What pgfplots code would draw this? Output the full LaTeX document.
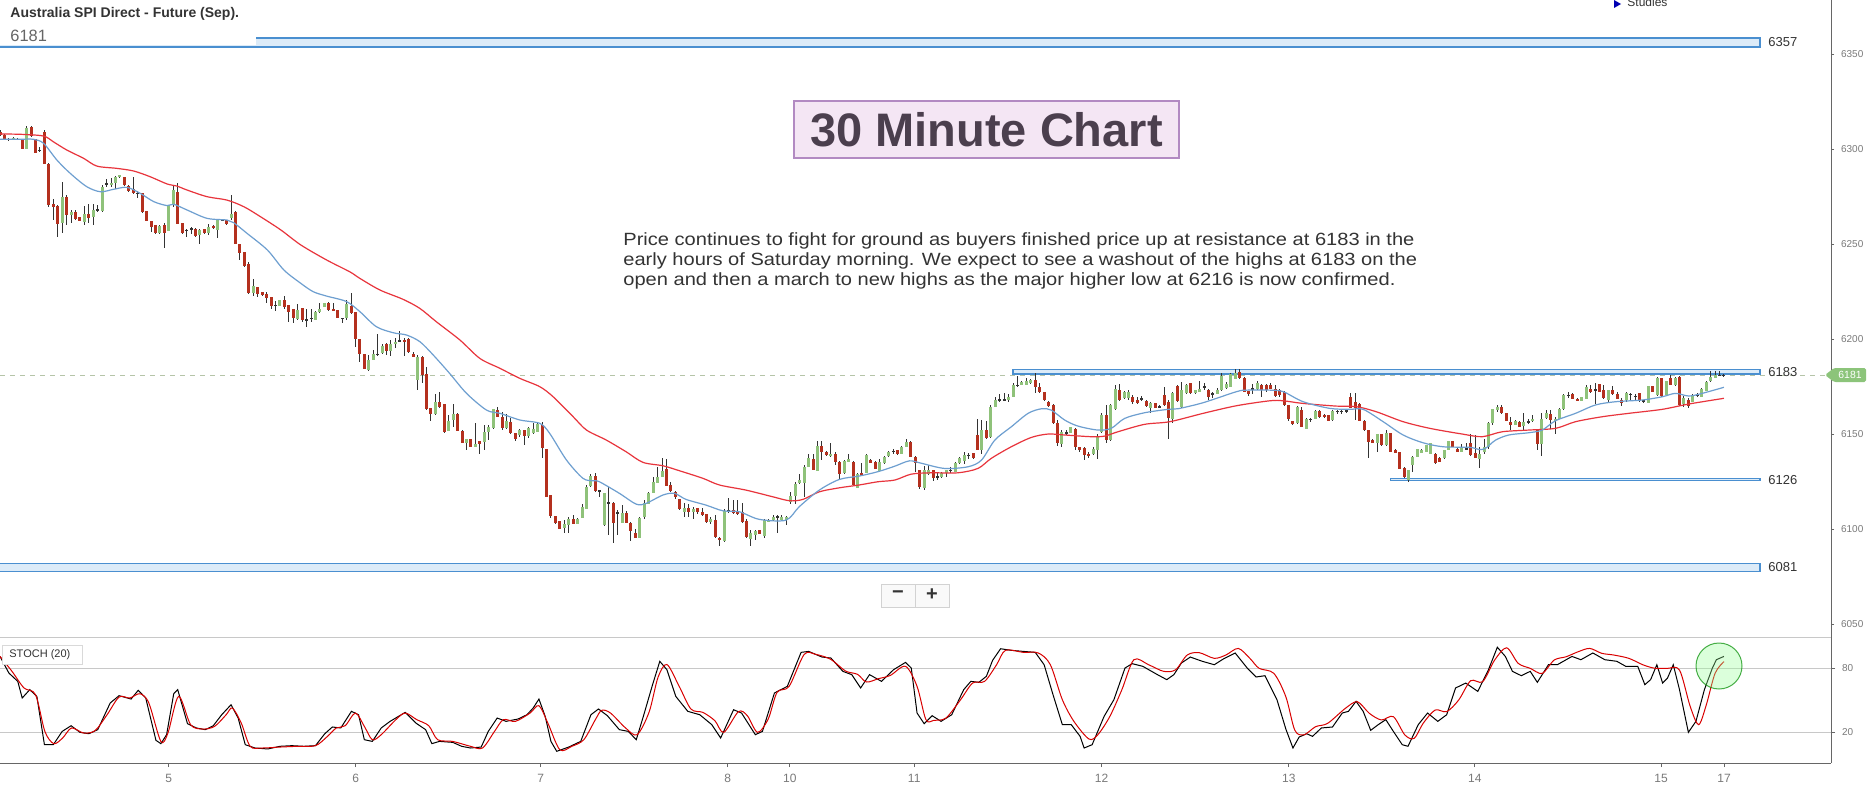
\documentclass[border=0pt]{standalone}
\usepackage{fontspec}
\setmainfont{Liberation Sans}
\usepackage{graphicx}
\usepackage{pgfplots}
\usepackage{pgfplotstable}
\pgfplotsset{compat=1.18}
\definecolor{cgreen}{HTML}{8FC27A}
\definecolor{cred}{HTML}{B4301E}
\definecolor{cwick}{HTML}{333333}
\definecolor{maBlue}{HTML}{6E9FD0}
\definecolor{maRed}{HTML}{E8343C}
\definecolor{bandFill}{HTML}{DCEBF8}
\definecolor{bandLine}{HTML}{4A8FD0}
\definecolor{dashc}{HTML}{B5C4A8}
\definecolor{tagGreen}{HTML}{8CC47A}
\definecolor{axisgray}{HTML}{666666}
\definecolor{labgray}{HTML}{7A7A7A}
\definecolor{gridc}{HTML}{C8C8C8}
\definecolor{titleFill}{HTML}{F4E6F4}
\definecolor{titleLine}{HTML}{B28AC2}
\definecolor{titleText}{HTML}{4B3F4E}
\definecolor{txt}{HTML}{333333}

\pgfplotstableread{
i o h l c
0 6309.1 6310.0 6307.0 6307.3
1 6307.3 6308.0 6304.8 6305.2
2 6305.2 6306.0 6304.5 6305.2
3 6305.1 6306.5 6304.8 6306.0
4 6305.1 6305.8 6304.6 6305.1
5 6305.1 6305.5 6300.0 6300.3
6 6300.3 6312.3 6300.0 6310.9
7 6311.7 6312.0 6306.5 6306.8
8 6305.1 6305.5 6297.8 6298.2
9 6299.5 6301.2 6298.6 6299.5
10 6309.1 6310.0 6292.0 6292.4
11 6292.4 6292.6 6269.6 6270.5
12 6271.0 6274.0 6262.6 6269.6
13 6270.2 6270.6 6253.8 6260.9
14 6260.9 6282.8 6256.0 6274.5
15 6274.9 6275.8 6260.0 6265.2
16 6265.2 6268.2 6260.9 6267.0
17 6267.0 6267.9 6262.6 6263.5
18 6264.0 6264.2 6261.9 6262.1
19 6261.7 6270.0 6260.0 6265.8
20 6265.8 6270.9 6260.9 6263.8
21 6264.0 6270.9 6260.0 6267.9
22 6267.9 6270.5 6267.0 6267.9
23 6267.5 6281.0 6267.0 6279.8
24 6281.6 6284.0 6279.8 6281.6
25 6281.0 6284.9 6279.8 6282.3
26 6282.3 6285.8 6278.8 6285.1
27 6285.1 6286.4 6285.0 6286.1
28 6285.1 6285.4 6280.5 6281.0
29 6280.5 6281.0 6277.5 6277.9
30 6278.9 6285.1 6276.6 6277.0
31 6276.6 6278.0 6274.5 6276.6
32 6276.6 6277.0 6266.5 6266.8
33 6267.4 6267.6 6262.1 6262.3
34 6262.1 6262.3 6256.5 6258.8
35 6260.0 6260.2 6255.4 6255.6
36 6255.6 6260.0 6255.2 6259.5
37 6260.0 6260.9 6247.7 6255.6
38 6257.0 6270.6 6256.8 6270.5
39 6270.5 6281.0 6269.6 6278.4
40 6277.5 6282.3 6260.5 6260.9
41 6260.9 6261.0 6255.3 6256.0
42 6257.4 6258.2 6253.5 6257.4
43 6258.2 6259.1 6255.2 6258.2
44 6257.7 6258.2 6253.8 6254.2
45 6254.7 6258.2 6250.3 6257.7
46 6257.7 6257.9 6255.4 6255.6
47 6255.6 6260.3 6254.7 6258.8
48 6259.5 6259.7 6258.0 6258.2
49 6257.4 6263.5 6253.5 6263.0
50 6262.6 6263.0 6262.0 6262.6
51 6262.6 6262.8 6260.3 6260.5
52 6263.5 6275.8 6262.6 6265.8
53 6267.0 6267.5 6250.0 6250.3
54 6250.3 6250.3 6241.6 6245.4
55 6245.9 6246.1 6238.2 6238.4
56 6239.8 6240.7 6223.7 6224.4
57 6224.4 6231.4 6222.6 6227.9
58 6227.5 6227.5 6222.3 6223.7
59 6224.9 6225.1 6223.0 6223.2
60 6223.7 6224.9 6218.8 6221.4
61 6222.3 6222.3 6215.6 6217.4
62 6217.9 6220.2 6214.9 6217.9
63 6217.7 6220.7 6217.5 6220.5
64 6220.5 6222.6 6216.1 6217.0
65 6217.9 6218.0 6209.1 6214.4
66 6215.6 6215.8 6208.6 6210.9
67 6210.9 6218.4 6210.0 6215.2
68 6216.5 6216.6 6209.1 6210.0
69 6210.2 6216.1 6206.5 6210.2
70 6211.0 6216.1 6209.1 6211.0
71 6210.0 6214.6 6209.8 6214.4
72 6214.4 6218.8 6213.5 6216.1
73 6217.0 6219.2 6216.8 6218.8
74 6219.3 6219.5 6215.0 6215.3
75 6216.1 6218.8 6214.6 6214.9
76 6215.3 6215.5 6211.0 6211.4
77 6210.9 6211.2 6208.6 6210.9
78 6211.4 6220.5 6210.0 6218.4
79 6217.4 6224.0 6213.2 6213.5
80 6214.4 6214.5 6195.6 6200.0
81 6200.0 6200.0 6188.0 6192.5
82 6192.1 6192.2 6184.4 6184.6
83 6183.7 6191.6 6183.5 6189.0
84 6189.3 6194.2 6189.0 6192.1
85 6191.9 6203.0 6191.0 6191.9
86 6192.5 6197.7 6192.3 6196.3
87 6197.4 6198.1 6191.6 6193.9
88 6193.9 6199.5 6191.0 6197.4
89 6197.7 6200.9 6195.6 6198.6
90 6199.1 6204.4 6198.8 6199.1
91 6199.5 6200.9 6191.0 6198.6
92 6200.2 6200.9 6192.8 6193.3
93 6192.1 6193.3 6190.5 6190.7
94 6178.4 6191.6 6173.2 6190.7
95 6190.7 6191.0 6177.0 6181.1
96 6181.4 6185.4 6162.6 6163.0
97 6163.5 6163.6 6157.0 6160.5
98 6160.5 6171.4 6160.0 6166.8
99 6166.8 6172.3 6164.0 6164.4
100 6165.8 6166.0 6150.7 6151.2
101 6151.8 6160.0 6151.5 6156.9
102 6157.4 6165.8 6153.9 6160.5
103 6160.5 6161.0 6151.5 6151.8
104 6151.8 6152.0 6145.2 6145.4
105 6145.4 6147.7 6141.9 6147.4
106 6147.2 6147.5 6143.0 6143.3
107 6143.3 6155.6 6143.0 6145.1
108 6146.3 6146.5 6139.3 6145.1
109 6146.0 6154.7 6141.6 6151.2
110 6151.2 6154.7 6146.9 6153.9
111 6153.0 6163.2 6152.8 6163.0
112 6162.6 6164.4 6159.0 6159.1
113 6159.1 6161.8 6152.5 6153.0
114 6153.0 6160.5 6152.8 6157.0
115 6156.5 6158.2 6150.2 6150.4
116 6150.4 6150.5 6146.5 6147.7
117 6149.5 6153.0 6148.6 6152.1
118 6152.1 6152.2 6144.2 6149.0
119 6149.0 6153.9 6148.2 6153.3
120 6150.4 6155.6 6150.0 6153.0
121 6151.2 6156.1 6151.0 6155.6
122 6154.7 6156.5 6137.2 6142.5
123 6142.1 6142.2 6116.8 6117.0
124 6117.9 6118.0 6105.6 6106.8
125 6106.8 6107.0 6102.8 6103.0
126 6104.2 6104.3 6100.0 6100.3
127 6100.3 6105.1 6098.1 6102.5
128 6102.1 6106.5 6098.1 6105.6
129 6105.3 6107.4 6102.5 6102.6
130 6102.9 6105.8 6102.7 6105.6
131 6106.1 6113.1 6106.0 6111.4
132 6110.9 6123.1 6110.7 6122.3
133 6122.5 6129.0 6122.0 6128.2
134 6127.9 6129.6 6119.6 6120.2
135 6120.1 6120.4 6117.0 6120.1
136 6102.1 6119.1 6101.6 6118.8
137 6113.9 6122.3 6096.8 6113.9
138 6113.9 6114.4 6092.8 6103.3
139 6108.6 6110.0 6096.8 6108.6
140 6103.3 6112.6 6103.0 6108.6
141 6108.6 6109.6 6103.0 6103.3
142 6103.3 6103.9 6093.9 6099.1
143 6098.2 6100.3 6095.4 6095.6
144 6095.6 6106.5 6095.4 6106.1
145 6106.1 6115.3 6105.6 6113.5
146 6113.5 6119.5 6113.3 6119.3
147 6119.3 6127.5 6119.0 6124.9
148 6124.4 6132.8 6124.2 6127.5
149 6127.5 6137.2 6127.2 6130.7
150 6131.9 6137.2 6122.6 6122.8
151 6123.2 6124.9 6119.6 6120.2
152 6119.6 6120.2 6115.8 6117.0
153 6115.8 6116.1 6110.0 6110.4
154 6108.8 6113.5 6106.5 6110.9
155 6110.9 6113.1 6106.5 6109.1
156 6108.8 6111.7 6105.6 6110.5
157 6110.9 6111.2 6108.2 6108.8
158 6109.1 6110.9 6106.9 6107.4
159 6107.9 6108.2 6103.5 6103.9
160 6103.9 6106.5 6102.6 6105.6
161 6104.7 6107.4 6095.6 6096.0
162 6095.6 6095.8 6091.2 6094.6
163 6093.9 6110.4 6093.3 6109.6
164 6109.6 6116.5 6108.8 6109.6
165 6110.0 6115.3 6108.2 6108.8
166 6109.1 6115.3 6107.4 6107.9
167 6108.8 6113.5 6103.3 6103.9
168 6104.4 6105.6 6095.1 6096.0
169 6094.6 6099.5 6091.0 6098.1
170 6096.8 6099.8 6094.6 6099.1
171 6099.5 6099.8 6097.4 6097.7
172 6096.3 6105.6 6095.6 6104.7
173 6103.9 6105.6 6103.7 6105.1
174 6104.7 6107.4 6104.4 6106.5
175 6106.5 6107.7 6098.1 6106.5
176 6105.1 6107.4 6104.4 6106.5
177 6104.7 6106.8 6102.1 6106.5
178 6114.4 6119.6 6113.5 6117.4
179 6117.4 6124.9 6113.2 6124.0
180 6124.0 6129.3 6123.8 6125.8
181 6124.0 6133.7 6116.7 6132.8
182 6132.8 6139.5 6132.6 6137.2
183 6137.2 6139.5 6131.0 6131.4
184 6130.7 6146.5 6130.5 6143.7
185 6143.7 6146.5 6136.3 6140.7
186 6140.7 6141.0 6138.8 6139.0
187 6138.4 6145.4 6138.1 6139.5
188 6139.8 6140.7 6133.7 6135.4
189 6135.4 6136.0 6125.8 6128.9
190 6129.6 6136.3 6129.3 6136.0
191 6135.4 6139.8 6135.2 6137.2
192 6135.4 6136.0 6122.6 6123.2
193 6121.9 6129.6 6121.4 6128.9
194 6129.6 6134.9 6128.2 6128.4
195 6129.6 6139.5 6129.4 6138.9
196 6136.7 6137.0 6134.7 6134.9
197 6135.4 6136.0 6131.7 6131.9
198 6130.7 6136.7 6130.5 6135.4
199 6134.6 6138.4 6134.4 6137.9
200 6138.4 6141.1 6138.2 6140.7
201 6141.1 6142.1 6139.5 6141.1
202 6141.6 6141.8 6139.3 6139.5
203 6139.5 6143.5 6139.3 6143.3
204 6143.3 6147.7 6143.1 6145.9
205 6145.9 6146.1 6137.9 6138.1
206 6138.1 6138.3 6130.2 6134.6
207 6131.0 6131.2 6120.9 6122.3
208 6121.9 6133.1 6120.5 6131.0
209 6128.9 6133.6 6128.7 6131.4
210 6131.0 6131.2 6125.4 6126.7
211 6127.5 6129.6 6125.8 6127.5
212 6127.2 6130.2 6126.7 6129.6
213 6129.6 6131.4 6127.5 6131.0
214 6131.0 6132.4 6129.6 6131.0
215 6130.2 6135.1 6130.0 6134.9
216 6134.6 6138.1 6134.4 6137.2
217 6136.0 6140.7 6134.6 6138.9
218 6138.9 6140.2 6137.2 6138.9
219 6139.8 6140.0 6137.0 6137.2
220 6149.5 6158.2 6141.7 6141.9
221 6141.9 6157.4 6139.5 6152.4
222 6152.4 6157.0 6147.7 6148.2
223 6148.6 6165.3 6148.2 6164.4
224 6164.4 6169.6 6164.2 6168.2
225 6168.2 6171.4 6167.0 6168.2
226 6168.2 6171.4 6167.5 6168.2
227 6167.9 6171.0 6167.0 6169.6
228 6169.6 6177.0 6169.4 6175.8
229 6175.8 6180.5 6174.9 6175.8
230 6175.8 6178.1 6175.6 6177.2
231 6176.1 6179.6 6175.8 6178.1
232 6176.7 6179.3 6176.5 6178.4
233 6178.8 6182.3 6171.7 6174.6
234 6174.6 6177.0 6171.7 6172.3
235 6172.3 6172.4 6167.5 6167.9
236 6167.0 6167.2 6164.5 6164.7
237 6165.3 6166.1 6155.6 6156.0
238 6156.0 6157.4 6143.7 6145.1
239 6145.1 6152.1 6143.3 6151.2
240 6150.7 6152.1 6149.5 6150.7
241 6150.7 6154.0 6150.5 6153.8
242 6153.0 6153.5 6141.9 6143.3
243 6143.3 6143.5 6140.7 6141.6
244 6142.9 6143.1 6136.7 6138.9
245 6139.8 6140.7 6137.2 6138.9
246 6139.5 6143.3 6138.9 6142.4
247 6141.6 6150.0 6136.7 6148.6
248 6151.2 6161.2 6150.7 6160.0
249 6160.0 6165.3 6145.4 6146.8
250 6146.8 6165.8 6146.5 6165.3
251 6163.0 6175.8 6162.6 6173.5
252 6173.1 6176.3 6167.5 6167.9
253 6168.8 6172.8 6168.2 6172.3
254 6168.8 6173.1 6168.2 6172.3
255 6169.6 6170.5 6166.1 6167.0
256 6168.2 6169.6 6165.8 6166.5
257 6168.8 6170.0 6167.5 6168.8
258 6167.5 6168.2 6164.4 6164.7
259 6164.0 6167.0 6161.2 6166.5
260 6166.5 6166.6 6163.5 6164.0
261 6164.4 6165.3 6163.5 6164.4
262 6170.5 6174.6 6164.7 6165.3
263 6167.0 6167.9 6147.7 6158.2
264 6158.2 6172.3 6156.0 6171.7
265 6175.3 6176.0 6167.0 6167.5
266 6164.4 6177.5 6164.0 6173.1
267 6171.4 6176.5 6171.0 6175.8
268 6176.7 6177.0 6171.0 6171.4
269 6171.4 6173.3 6171.2 6173.1
270 6172.3 6178.1 6172.0 6174.0
271 6174.9 6176.7 6173.1 6174.9
272 6173.5 6174.0 6168.2 6169.6
273 6171.4 6172.3 6168.8 6171.4
274 6171.4 6174.4 6171.0 6173.5
275 6173.5 6182.3 6173.0 6180.5
276 6174.6 6177.5 6174.0 6176.7
277 6174.9 6182.3 6174.6 6181.6
278 6179.3 6184.4 6179.0 6182.3
279 6182.8 6184.4 6179.0 6179.3
280 6179.8 6180.0 6172.0 6172.3
281 6172.8 6173.0 6170.0 6171.0
282 6174.0 6176.7 6171.0 6174.0
283 6173.5 6178.1 6173.0 6176.7
284 6175.8 6176.5 6169.6 6173.1
285 6175.8 6176.5 6172.3 6173.1
286 6175.8 6177.0 6173.5 6174.0
287 6173.5 6175.8 6169.6 6170.0
288 6173.5 6174.0 6169.6 6170.5
289 6172.3 6172.8 6165.0 6165.3
290 6165.3 6165.5 6157.0 6157.7
291 6157.0 6157.2 6155.0 6155.3
292 6155.6 6165.0 6155.3 6164.4
293 6163.0 6164.4 6153.5 6153.8
294 6153.0 6158.5 6152.8 6158.2
295 6157.7 6158.8 6156.5 6157.7
296 6158.2 6162.6 6158.0 6162.3
297 6162.3 6162.6 6158.8 6159.1
298 6160.0 6160.5 6158.5 6158.8
299 6160.0 6160.2 6156.8 6157.0
300 6157.4 6162.6 6157.2 6162.3
301 6162.1 6162.6 6160.5 6162.1
302 6162.1 6162.6 6160.5 6162.1
303 6162.3 6163.0 6161.2 6162.3
304 6169.6 6171.7 6163.8 6164.0
305 6167.0 6171.7 6157.4 6163.5
306 6166.1 6166.5 6156.8 6157.0
307 6157.0 6157.2 6151.9 6152.1
308 6152.1 6152.3 6137.7 6145.9
309 6147.2 6147.4 6145.2 6145.4
310 6145.4 6150.2 6140.7 6150.0
311 6150.0 6150.2 6144.0 6144.2
312 6144.2 6152.4 6144.0 6150.7
313 6150.3 6150.5 6140.5 6140.7
314 6141.9 6142.1 6140.0 6140.2
315 6140.7 6140.9 6131.7 6131.9
316 6132.4 6132.6 6126.7 6127.5
317 6125.8 6131.2 6124.9 6131.0
318 6133.7 6138.3 6130.2 6138.1
319 6138.1 6142.1 6137.9 6141.9
320 6140.2 6142.1 6140.0 6141.9
321 6140.7 6144.4 6140.5 6144.2
322 6139.8 6145.3 6139.6 6145.1
323 6139.8 6140.0 6134.4 6134.6
324 6137.7 6137.9 6135.2 6135.4
325 6137.2 6141.8 6137.0 6141.6
326 6141.6 6146.5 6141.4 6146.3
327 6146.3 6146.5 6143.1 6143.3
328 6142.4 6142.6 6140.5 6140.7
329 6140.7 6145.1 6140.5 6143.3
330 6142.4 6145.4 6141.9 6142.4
331 6145.1 6150.3 6138.4 6138.9
332 6140.2 6149.5 6137.2 6137.7
333 6136.7 6143.3 6132.4 6139.8
334 6140.7 6147.7 6139.5 6143.3
335 6143.3 6156.5 6142.4 6155.9
336 6155.9 6163.5 6154.7 6163.0
337 6162.6 6165.3 6161.7 6164.4
338 6164.4 6165.3 6160.5 6160.9
339 6161.2 6161.4 6156.8 6157.0
340 6156.5 6159.1 6152.1 6154.7
341 6154.7 6157.2 6154.5 6157.0
342 6156.5 6156.7 6153.6 6153.8
343 6154.2 6160.9 6152.1 6156.5
344 6156.5 6158.2 6155.3 6156.5
345 6157.0 6160.0 6156.5 6158.2
346 6152.4 6153.0 6141.9 6144.7
347 6144.7 6161.2 6138.4 6158.2
348 6158.2 6162.6 6158.0 6161.2
349 6160.9 6162.6 6153.0 6157.7
350 6157.0 6159.1 6150.0 6158.2
351 6158.2 6163.7 6158.0 6163.5
352 6163.0 6171.0 6162.8 6170.5
353 6170.5 6172.3 6168.8 6170.5
354 6171.4 6171.6 6168.6 6168.8
355 6168.8 6169.0 6167.3 6167.5
356 6167.5 6169.8 6167.3 6169.6
357 6168.8 6175.8 6168.6 6174.9
358 6174.0 6175.8 6171.7 6172.3
359 6173.5 6176.7 6166.1 6173.5
360 6176.3 6176.5 6172.1 6172.3
361 6173.1 6175.8 6168.8 6169.3
362 6167.9 6173.5 6166.5 6173.1
363 6173.1 6175.3 6170.8 6171.0
364 6171.4 6172.3 6168.6 6168.8
365 6167.9 6168.8 6164.7 6166.5
366 6167.9 6172.3 6167.0 6171.4
367 6171.0 6171.7 6167.9 6171.0
368 6170.0 6171.4 6168.2 6170.0
369 6171.4 6171.7 6167.0 6167.9
370 6167.5 6167.9 6166.1 6167.5
371 6166.5 6175.5 6166.3 6175.3
372 6175.3 6175.5 6172.1 6172.3
373 6170.5 6180.2 6170.3 6179.6
374 6179.3 6179.5 6169.8 6170.0
375 6170.5 6178.1 6170.3 6177.9
376 6179.3 6181.0 6175.6 6175.8
377 6175.8 6180.2 6175.6 6179.3
378 6180.2 6180.5 6164.7 6165.3
379 6165.8 6170.0 6164.4 6168.8
380 6167.9 6168.8 6163.5 6164.7
381 6167.0 6171.0 6166.8 6170.5
382 6170.5 6171.7 6169.3 6170.5
383 6169.6 6174.2 6169.4 6174.0
384 6172.8 6177.7 6172.6 6177.5
385 6177.9 6183.3 6177.7 6180.2
386 6179.8 6183.3 6179.6 6181.0
387 6181.0 6183.3 6180.5 6181.0
388 6181.0 6181.4 6180.1 6181.0
}\candles

\newcommand{\paratext}[1]{\scalebox{1.134}[1]{\fontsize{8.85}{10}\selectfont #1}}

\begin{document}
\begin{tikzpicture}[x=0.5pt,y=0.5pt]
\useasboundingbox (0,0) rectangle (1869,794);
\fill[white] (0,0) rectangle (1869,794);

% ---------------- price panel ----------------
\begin{axis}[at={(0pt,78.5pt)}, anchor=south west, scale only axis,
  width=915.5pt, height=318.5pt,
  xmin=0, xmax=412.1, ymin=6043.2, ymax=6378.4,
  axis x line=none, axis y line*=right,
  axis line style={draw=axisgray, line width=0.5pt},
  ytick={6050,6100,...,6350}, tick align=outside, major tick length=1.5pt,
  tick style={draw=axisgray, line width=0.4pt},
  yticklabel style={font=\fontsize{5}{6}\selectfont, text=labgray},
  /pgf/number format/1000 sep={}, /pgf/number format/assume math mode=true]

% level bands
\draw[bandLine, line width=0.6pt, fill=bandFill] (axis cs:-2,6353.7) rectangle (axis cs:396.1,6358.4);
\draw[bandLine, line width=0.6pt, fill=bandFill] (axis cs:228,6181.6) rectangle (axis cs:396.1,6184.0);
\draw[bandLine, line width=0.6pt, fill=bandFill] (axis cs:312.9,6125.4) rectangle (axis cs:396.1,6126.7);
\draw[bandLine, line width=0.6pt, fill=bandFill] (axis cs:-2,6077.5) rectangle (axis cs:396.1,6082.0);
% current price dashed line
\draw[dashc, line width=0.5pt, dash pattern=on 2.5pt off 2.5pt] (axis cs:0,6181) -- (axis cs:411,6181);

% wicks
\addplot[draw=none, mark=none, forget plot,
  error bars/.cd, y dir=both, y explicit, error mark=none,
  error bar style={draw=cwick, line width=0.5pt}]
  table[x=i, y expr={(\thisrow{h}+\thisrow{l})/2}, y error expr={(\thisrow{h}-\thisrow{l})/2}] {\candles};
% green bodies
\addplot[draw=none, mark=none, forget plot,
  restrict expr to domain={\thisrow{c}-\thisrow{o}}{0.01:1000},
  error bars/.cd, y dir=both, y explicit, error mark=none,
  error bar style={draw=cgreen, line width=1.5pt}]
  table[x=i, y expr={(\thisrow{o}+\thisrow{c})/2}, y error expr={max(abs(\thisrow{c}-\thisrow{o})/2,0.3)}] {\candles};
% red bodies
\addplot[draw=none, mark=none, forget plot,
  restrict expr to domain={\thisrow{c}-\thisrow{o}}{-1000:-0.01},
  error bars/.cd, y dir=both, y explicit, error mark=none,
  error bar style={draw=cred, line width=1.5pt}]
  table[x=i, y expr={(\thisrow{o}+\thisrow{c})/2}, y error expr={max(abs(\thisrow{c}-\thisrow{o})/2,0.3)}] {\candles};
% doji
\addplot[draw=none, mark=none, forget plot,
  restrict expr to domain={\thisrow{c}-\thisrow{o}}{-0.01:0.01},
  error bars/.cd, y dir=both, y explicit, error mark=none,
  error bar style={draw=cwick, line width=1.5pt}]
  table[x=i, y expr={(\thisrow{o}+\thisrow{c})/2}, y error expr={0.3}] {\candles};

% moving averages
\addplot[maRed, line width=0.6pt, smooth, mark=none] coordinates {
(0,6307.9)(4.9,6307.7)(9.8,6306.8)(12,6303.8)(15,6299.5)(18.8,6295.1)(21.8,6291.0)(26.3,6289.8)(30.1,6288.4)(33.8,6285.4)(37.6,6281.6)(39.8,6280.5)(42.1,6278.4)(46.6,6274.9)(51.1,6273.1)(54.9,6269.6)(58.6,6264.4)(63.2,6257.4)(67.7,6249.5)(73.5,6241.6)(78.7,6235.4)(81,6231.9)(85.5,6225.8)(90.7,6220.9)(94.5,6216.1)(98.2,6209.1)(103.5,6199.5)(108,6189.8)(112.5,6184.6)(117,6179.3)(121.5,6174.9)(124.5,6169.6)(129,6159.1)(132,6152.1)(136.4,6146.9)(140.9,6140.7)(144.7,6135.1)(149.2,6133.3)(152.9,6130.7)(158.2,6126.7)(161.9,6123.2)(167.9,6120.5)(173.9,6117.0)(177.7,6114.9)(180.7,6115.6)(184.4,6119.6)(188.9,6121.7)(193.4,6123.2)(197.6,6124.9)(201.4,6125.8)(205.1,6128.9)(209.6,6129.6)(215.6,6129.6)(220.1,6131.9)(223.1,6137.2)(227.6,6143.3)(232.1,6148.2)(235.9,6150.0)(239.6,6149.5)(245.6,6148.6)(248.6,6148.9)(251.6,6151.2)(257.6,6155.1)(263.3,6156.5)(270.8,6160.9)(278.3,6164.9)(285.8,6167.5)(288.8,6167.5)(293.3,6166.1)(300.8,6164.7)(305.3,6164.4)(309.8,6161.7)(315.8,6156.5)(321.8,6153.0)(329.1,6150.0)(333.6,6148.6)(338.1,6151.2)(344.1,6152.1)(350.1,6153.0)(354.6,6156.5)(360.6,6159.1)(366.6,6160.9)(374.1,6163.0)(380.1,6165.8)(388,6168.8)};
\addplot[maBlue, line width=0.6pt, smooth, mark=none] coordinates {
(0,6305.1)(4.5,6305.1)(7.5,6305.1)(9.8,6303)(12.8,6294.2)(15.8,6287.2)(19.5,6280.2)(22.6,6277.5)(25.6,6278.8)(28.6,6279.8)(31.6,6276.6)(34.6,6272.3)(37.6,6270.2)(39.1,6270.9)(42.1,6267.9)(46.6,6263.5)(51.1,6262.6)(52.6,6261.2)(55.6,6255.6)(60.2,6246.8)(63.9,6236.3)(67.7,6229.3)(70.5,6224.9)(73.5,6222.6)(78,6219.7)(81,6214.4)(84.7,6206.5)(88.5,6203.3)(91.5,6202.1)(94.5,6198.6)(97.5,6191.6)(101.2,6181.9)(105,6171.4)(109.5,6162.6)(112.5,6160.9)(117,6157.4)(121.5,6155.6)(123.7,6150.4)(127.5,6136.3)(131.2,6126.7)(133.5,6125.4)(134.9,6124.9)(139.4,6118.8)(143.2,6113.1)(145.4,6113.5)(149.2,6117.9)(151.8,6118.8)(154.4,6115.6)(158.9,6112.6)(162.7,6109.6)(166.4,6109.1)(170.9,6105.1)(176.9,6104.7)(179.9,6111.8)(184.4,6120.5)(188.9,6126.1)(193.4,6127.9)(197.6,6130.2)(201.4,6133.1)(204.7,6135.9)(207.4,6134.6)(212.6,6131.9)(217.9,6132.8)(220.9,6136.3)(223.9,6146.8)(227.6,6153.8)(231.4,6160.9)(234.4,6163.3)(236.6,6162.6)(239.6,6157.4)(242.6,6154.2)(247.1,6152.1)(250.1,6153.0)(253.1,6158.2)(257.6,6161.2)(262.9,6163.0)(265.1,6163.3)(270.8,6166.5)(278.3,6172.3)(280.6,6173.1)(285.8,6173.1)(288.8,6172.3)(293.3,6167.0)(299.3,6163.5)(303.8,6163.0)(306.8,6163.0)(311.3,6156.5)(315.8,6149.5)(320.3,6145.4)(324.8,6143.3)(330.8,6143.0)(332.8,6141.9)(334.3,6142.4)(336.6,6146.8)(339.6,6149.5)(344.1,6150.7)(347.1,6152.1)(350.1,6157.0)(354.6,6160.9)(359.1,6165.3)(363.6,6167.0)(369.6,6167.9)(374.1,6169.6)(377.1,6171.4)(380.1,6170.0)(383.1,6171.4)(388,6174.6)};

% level labels
\node[anchor=west, inner sep=0pt, font=\fontsize{6.5}{7}\selectfont, text=txt] at (axis cs:397.9,6356.5) {6357};
\node[anchor=west, inner sep=0pt, font=\fontsize{6.5}{7}\selectfont, text=txt] at (axis cs:397.9,6182.6) {6183};
\node[anchor=west, inner sep=0pt, font=\fontsize{6.5}{7}\selectfont, text=txt] at (axis cs:397.9,6126.0) {6126};
\node[anchor=west, inner sep=0pt, font=\fontsize{6.5}{7}\selectfont, text=txt] at (axis cs:397.9,6079.8) {6081};
\end{axis}

% ---------------- stochastic panel ----------------
\begin{axis}[at={(0pt,15.5pt)}, anchor=south west, scale only axis,
  width=915.5pt, height=63pt,
  xmin=0, xmax=412.1, ymin=-9.06, ymax=109.1, clip=false,
  axis x line*=bottom, axis y line*=right,
  axis line style={draw=axisgray, line width=0.5pt},
  ytick={20,80}, ymajorgrids, grid style={draw=gridc, line width=0.5pt},
  xtick={37.95,80.04,121.72,163.81,177.76,205.76,247.94,290.07,331.94,373.85,388.03},
  xticklabels={5,6,7,8,10,11,12,13,14,15,17},
  tick align=outside, major tick length=2pt,
  tick style={draw=axisgray, line width=0.4pt},
  xticklabel style={font=\fontsize{6}{7}\selectfont, text=labgray},
  yticklabel style={font=\fontsize{5}{6}\selectfont, text=labgray},
  /pgf/number format/1000 sep={}, /pgf/number format/assume math mode=true]
\draw[gridc, line width=0.5pt] (axis cs:0,109.1) -- (axis cs:412.1,109.1);
\addplot[black, line width=0.5pt, mark=none] coordinates {
(0,90.9)(2,75.3)(4,67.5)(5,51.9)(6.7,59.7)(8.3,53.4)(10,8.1)(12,8.1)(14,20.6)(16,25.9)(18,19.7)(20,18.4)(22,22.2)(24.8,47.2)(26.8,54.1)(29.5,50.9)(31.1,59.1)(32.8,51.9)(35.1,12.2)(36.2,9.1)(37.5,17.5)(39.1,55.9)(40,59.7)(42.2,27.8)(44.2,23.8)(46.2,22.2)(48,25.9)(49.9,36.2)(52,45.6)(53.6,33.1)(55.2,8.1)(57.4,5.0)(60.3,4.1)(63,6.6)(65.7,7.2)(68.4,6.6)(71,7.2)(73.1,18.4)(74.8,24.7)(76.7,23.8)(79.1,39.4)(80.7,36.2)(82,12.8)(83.8,11.2)(85.8,23.8)(87.8,30.0)(91.2,38.4)(93.6,28.4)(95.8,22.2)(97.2,9.1)(98.9,11.2)(101.9,10.3)(103.9,6.6)(105.9,5.0)(108.3,5.9)(109.9,20.6)(111.9,33.1)(113.9,30.0)(116.6,32.2)(118.6,36.2)(120,42.5)(121.3,50.9)(122.7,34.7)(124,11.2)(125.3,1.9)(128,5.9)(130.7,11.2)(133,36.2)(134.7,41.6)(136.7,35.3)(139.4,22.2)(141.4,20.6)(143.2,12.8)(144.8,34.7)(146.8,63.4)(148.5,86.3)(150.1,78.4)(152.1,53.4)(154.8,39.4)(157.5,36.2)(160.2,26.9)(162.2,14.4)(165.1,40.9)(166.9,37.8)(170,17.5)(171.6,20.6)(174.3,56.6)(177.2,62.8)(180.3,94.7)(182,95.6)(185,90.3)(187,89.4)(189.7,76.9)(191.7,73.8)(193.7,61.3)(195.7,73.8)(198.4,67.5)(201.1,78.4)(203.8,85.3)(205.1,80)(206.4,37.8)(208,27.8)(209.8,35.3)(211.8,30.0)(214.2,36.2)(216.9,59.7)(218.5,67.5)(220.3,66.6)(222,72.2)(223.4,87.2)(225.2,98.1)(227.6,96.6)(230.3,95.6)(233,94.7)(235,83.1)(237,55.0)(239.1,26.9)(241.1,26.9)(243.1,15.9)(244,5.0)(245.8,8.1)(248.5,34.7)(250.7,50.3)(253.2,80)(254.8,84.1)(257.2,81.6)(260.5,73.8)(262.6,69.1)(264.2,73.8)(265.9,84.7)(267.9,90.3)(270.6,86.3)(273.3,83.1)(275.3,88.4)(278,94.1)(280.7,80)(282.7,71.6)(284.7,72.8)(287.4,50.3)(289.4,22.8)(291,5.0)(292.4,15.3)(294.1,18.4)(295.4,15.9)(297.4,23.8)(299.9,24.7)(302.1,37.8)(303.5,39.4)(305.2,48.8)(306.8,39.4)(308.5,21.6)(310.2,26.9)(311.9,31.6)(313.6,20.6)(315.6,8.1)(316.9,6.6)(319.2,26.9)(321.3,37.8)(323.6,30.0)(325.6,36.2)(327.6,61.3)(329.9,65.9)(332.6,58.1)(335,78.4)(337,99.5)(338.8,90.9)(340.4,76.9)(342.4,72.8)(344.4,76.9)(346,66.6)(348.5,83.1)(350.5,83.1)(353.8,90.9)(355.8,87.8)(358.5,94.1)(361.2,87.8)(363.9,86.3)(365.9,81.6)(368.6,81.6)(370.2,64.4)(371.5,69.1)(372.9,83.1)(374.2,65.9)(375.3,70.6)(376.6,83.1)(378,59.7)(380,19.7)(381.7,30.0)(383.6,59.7)(385.4,80)(386.3,87.8)(388,90.9)};
\addplot[red!85!black, line width=0.5pt, mark=none, smooth] coordinates {
(0,90.9)(2.7,76.9)(5.4,61.3)(8.0,55.0)(10.1,20.6)(12.1,9.1)(14.1,14.4)(16.1,23.8)(18.8,19.1)(21.4,21.3)(24.1,36.2)(26.8,52.8)(29.2,51.9)(31.5,55.9)(33.5,47.2)(36.2,11.2)(37.8,19.1)(40.2,53.4)(42.9,26.9)(45.6,22.8)(48.3,25.3)(50.9,36.2)(52.3,42.5)(54.3,28.4)(56.3,6.6)(59.0,5.0)(63.0,5.9)(67.0,6.6)(71.0,7.2)(73.7,15.9)(75.7,23.8)(77.7,25.9)(80.0,37.8)(82.0,25.3)(83.8,12.8)(85.8,17.5)(89.1,31.6)(91.2,37.8)(93.8,31.6)(96.5,25.9)(98.5,12.8)(101.9,11.2)(105.9,6.6)(108.6,5.0)(111.3,20.6)(113.3,31.6)(116.0,30.0)(119.3,37.8)(121.3,44.7)(123.3,28.4)(126.0,3.4)(128.7,6.6)(131.4,12.8)(134.0,31.6)(135.4,40.3)(137.4,37.8)(140.8,23.8)(143.4,17.5)(146.1,38.8)(148.1,71.3)(150.1,83.3)(152.8,63.4)(155.5,41.6)(158.2,38.4)(160.9,30.6)(162.9,19.7)(166.2,39.1)(168.2,35.3)(170.5,19.7)(172.9,32.2)(174.9,57.2)(177.6,62.8)(181.0,92.8)(183.6,92.8)(187.0,88.1)(190.3,77.2)(193.0,74.1)(195.0,66.9)(197.7,70.0)(200.4,73.1)(203.8,81.6)(206.4,62.8)(208.4,31.6)(210.2,31.0)(212.9,33.1)(216.2,50.3)(218.9,65.9)(221.6,67.5)(224.3,83.1)(226.3,96.6)(230.3,94.7)(233.7,94.1)(236.4,83.1)(239.1,50.3)(241.7,30.0)(245.1,13.4)(247.1,17.5)(249.8,34.7)(252.5,59.7)(255.2,87.8)(258.5,83.1)(261.9,76.9)(264.6,78.4)(267.2,92.2)(269.9,94.4)(273.3,89.1)(275.9,92.2)(278.7,98.4)(281.3,89.1)(283.4,79.7)(286.7,75.0)(289.4,53.1)(291.4,21.9)(293.4,17.2)(296.1,25.0)(298.8,28.1)(302.8,42.2)(305.5,48.4)(308.2,37.5)(310.9,31.3)(313.6,34.4)(316.2,17.2)(318.3,14.1)(320.3,28.1)(323.0,40.6)(325.6,39.1)(328.3,50.0)(331.0,68.1)(333.7,67.2)(336.4,87.5)(339.1,99.0)(341.7,84.4)(344.4,79.7)(347.1,75.0)(349.8,87.5)(352.5,90.6)(355.2,95.3)(357.8,98.4)(360.5,93.8)(363.2,92.2)(366.6,89.1)(369.9,82.8)(372.6,79.7)(375.3,79.7)(378.0,78.1)(380.4,44.1)(382.3,26.9)(384.0,45.0)(386.0,75.0)(388.0,86.0)};
\end{axis}

% ---------------- overlays (pixel coordinates, y = 794 - Y) ----------------
% header
\fill[white] (0,794) rectangle (256,748.6);
\node[anchor=base west, inner sep=0pt, font=\fontsize{7}{8}\selectfont\bfseries, text=txt] at (10,776) {Australia SPI Direct - Future (Sep).};
\node[anchor=base west, inner sep=0pt, font=\fontsize{8.2}{9}\selectfont, text=axisgray] at (10,752.5) {6181};
% studies
\fill[blue!70!black] (1614,794) -- (1614,786) -- (1621,790) -- cycle;
\node[anchor=base west, inner sep=0pt, font=\fontsize{6}{7}\selectfont, text=txt] at (1627,787) {Studies};
% title
\draw[titleLine, line width=1pt, fill=titleFill] (794,636) rectangle (1179,693);
\node[font=\fontsize{23.5}{26}\selectfont\bfseries, text=titleText] at (986.5,664.5) {30 Minute Chart};
% comment text
\node[anchor=base west, inner sep=0pt, text=txt] at (623,548.5) {\paratext{Price continues to fight for ground as buyers finished price up at resistance at 6183 in the}};
\node[anchor=base west, inner sep=0pt, text=txt] at (623,528.5) {\paratext{early hours of Saturday morning. We expect to see a washout of the highs at 6183 on the}};
\node[anchor=base west, inner sep=0pt, text=txt] at (623,508.5) {\paratext{open and then a march to new highs as the major higher low at 6216 is now confirmed.}};
% zoom buttons
\draw[gray!35, fill=gray!5] (881,187) rectangle (949,210);
\draw[gray!35] (915,187) -- (915,210);
\node[font=\fontsize{10}{10}\selectfont\bfseries, text=txt] at (898,199) {\textminus};
\node[font=\fontsize{10}{10}\selectfont\bfseries, text=txt] at (932,199) {+};
% current price tag
\fill[tagGreen, rounded corners=0.8pt] (1825,419) -- (1834,426) -- (1866,426) -- (1866,412) -- (1834,412) -- cycle;
\node[font=\fontsize{5.2}{6}\selectfont, text=white] at (1850,419) {6181};
% stoch label
\draw[gray!30, fill=white] (2,130) rectangle (82,149);
\node[anchor=west, inner sep=0pt, font=\fontsize{5.5}{6}\selectfont, text=txt] at (9,139.5) {STOCH (20)};
% highlight circle
\draw[green!55!black, line width=0.5pt, fill=green!40!white, fill opacity=0.35, draw opacity=0.7] (1719,128) circle (23);
\end{tikzpicture}
\end{document}
